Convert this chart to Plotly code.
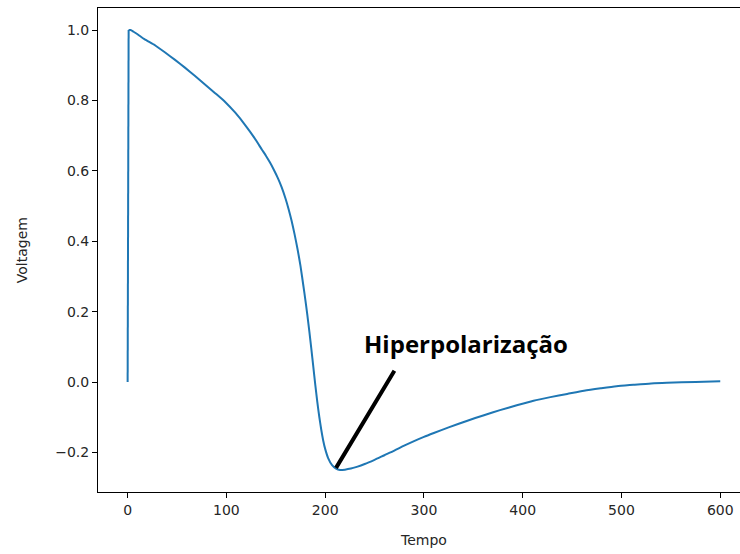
import plotly.graph_objects as go

# Data
tempo = [0, 1, 3, 6, 10, 17, 28, 38, 48, 58, 68, 78, 88, 99, 109, 119, 128, 136, 140,
         144, 148, 152, 156, 160, 163, 166, 169, 172, 175, 178, 180, 182, 184, 186,
         188, 190, 192, 194, 196, 198, 200, 203, 207, 211, 215, 220, 226, 232, 240,
         250, 260, 270, 280, 290, 300, 310, 325, 344, 360, 377, 394, 411, 428, 445,
         462, 479, 495, 512, 530, 546, 575, 600]
voltagem = [0.0, 1.0, 1.0, 0.995, 0.988, 0.974, 0.956, 0.936, 0.915, 0.893, 0.870,
            0.846, 0.822, 0.795, 0.765, 0.730, 0.695, 0.660, 0.643, 0.624, 0.603,
            0.580, 0.553, 0.520, 0.491, 0.458, 0.420, 0.378, 0.330, 0.272, 0.232,
            0.189, 0.143, 0.094, 0.043, -0.008, -0.056, -0.098, -0.135, -0.166,
            -0.190, -0.216, -0.236, -0.246, -0.250, -0.249, -0.246, -0.241, -0.233,
            -0.221, -0.208, -0.195, -0.181, -0.168, -0.156, -0.145, -0.129, -0.110,
            -0.095, -0.080, -0.066, -0.053, -0.043, -0.034, -0.025, -0.018, -0.012,
            -0.008, -0.004, -0.002, 0.0, 0.002]

x_ticks = [0, 100, 200, 300, 400, 500, 600]
y_ticks = [-0.2, 0.0, 0.2, 0.4, 0.6, 0.8, 1.0]
y_tick_labels = ["\u22120.2", "0.0", "0.2", "0.4", "0.6", "0.8", "1.0"]

annot_text = "Hiperpolarização"
annot_tip = (211, -0.244)
annot_tail = (271, 0.036)
annot_text_pos = (237, 0.110)

font_main = "DejaVu Sans"
text_color = "#262626"
line_color = "#1f77b4"

fig = go.Figure()
# upstroke (straight) and the rest of the action potential (smoothed)
fig.add_trace(go.Scatter(x=tempo[:2], y=voltagem[:2], mode="lines",
                         line=dict(color=line_color, width=2), showlegend=False))
fig.add_trace(go.Scatter(x=tempo[1:], y=voltagem[1:], mode="lines",
                         line=dict(color=line_color, width=2, shape="spline",
                                   smoothing=0.6),
                         showlegend=False))

fig.add_annotation(x=annot_tip[0], y=annot_tip[1], ax=annot_tail[0], ay=annot_tail[1],
                   xref="x", yref="y", axref="x", ayref="y", text="",
                   showarrow=True, arrowhead=0, arrowwidth=4, arrowcolor="black",
                   standoff=0, startstandoff=0)
fig.add_annotation(x=annot_text_pos[0], y=annot_text_pos[1], xref="x", yref="y",
                   text="<b>" + annot_text + "</b>", showarrow=False,
                   xanchor="left", yanchor="middle",
                   font=dict(family="Open Sans", size=24, color="black"))

fig.add_annotation(x=300, y=-0.099, xref="x", yref="paper", text="Tempo",
                   showarrow=False, xanchor="center", yanchor="middle",
                   font=dict(family=font_main, size=14, color=text_color))
fig.add_annotation(x=-0.118, y=0.5, xref="paper", yref="paper", text="Voltagem",
                   textangle=-90, showarrow=False, xanchor="center", yanchor="middle",
                   font=dict(family=font_main, size=14, color=text_color))

fig.update_layout(
    width=740, height=554,
    margin=dict(l=98, r=0, t=8, b=62),
    plot_bgcolor="white", paper_bgcolor="white",
    font=dict(family=font_main, size=14, color=text_color),
)
fig.update_xaxes(range=[-30, 620], tickvals=x_ticks, ticks="outside", ticklen=5,
                 tickwidth=1, tickcolor="black", showgrid=False, zeroline=False,
                 showline=True, linecolor="black", linewidth=1, mirror=True,
                 tickfont=dict(family=font_main, size=14, color=text_color))
fig.update_yaxes(range=[-0.3125, 1.0625], tickvals=y_ticks, ticktext=y_tick_labels,
                 ticks="outside", ticklen=5, tickwidth=1, tickcolor="black",
                 showgrid=False, zeroline=False, showline=True, linecolor="black",
                 linewidth=1, mirror=False,
                 tickfont=dict(family=font_main, size=14, color=text_color))

fig.write_html("out.html")
